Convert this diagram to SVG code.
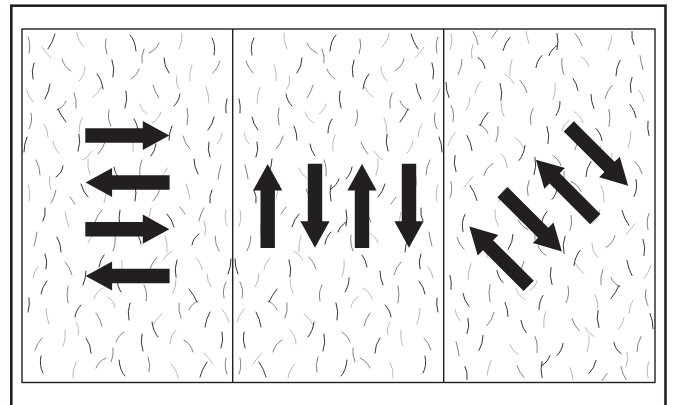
<svg xmlns="http://www.w3.org/2000/svg" xmlns:xlink="http://www.w3.org/1999/xlink" width="674" height="405" viewBox="0 0 674 405">
<style>
.h1{fill:none;stroke:#1e1e1e;stroke-width:0.9;stroke-linecap:round}
.h2{fill:none;stroke:#5a5a5a;stroke-width:0.75;stroke-linecap:round}
.h3{fill:none;stroke:#959595;stroke-width:0.65;stroke-linecap:round}
.arr{fill:#231f20}
.frame{fill:none;stroke:#231f20}
</style>
<defs>
<clipPath id="inner"><rect x="22" y="29" width="633" height="353.5"/></clipPath>
<path id="arrow" d="M-42,-7.2 H15.5 V-14.6 L42,0 L15.5,14.6 V7.2 H-42 Z"/>
<g id="tex">
<path class="h2" d="M6 8 q3 7 1 16"/>
<path class="h1" d="M33 5 q-2 8 -7 15"/>
<path class="h3" d="M55 4 q1 8 7 14"/>
<path class="h2" d="M84 10 q-2 7 1 15"/>
<path class="h1" d="M108 6 q5 5 6 16"/>
<path class="h2" d="M137 14 q-3 7 -10 10"/>
<path class="h3" d="M160 4 q1 8 -3 16"/>
<path class="h1" d="M190 9 q4 7 2 17"/>
<path class="h3" d="M20 18 q4 6 9 11"/>
<path class="h2" d="M122 20 q-3 7 -2 14"/>
<path class="h1" d="M12 34 q-3 8 -1 16"/>
<path class="h2" d="M40 30 q2 8 9 12"/>
<path class="h3" d="M63 38 q0 8 -6 14"/>
<path class="h1" d="M90 31 q3 8 1 17"/>
<path class="h2" d="M117 40 q-2 6 -8 10"/>
<path class="h1" d="M142 29 q0 8 5 15"/>
<path class="h3" d="M170 36 q-3 7 -2 16"/>
<path class="h2" d="M198 32 q-2 7 -7 12"/>
<path class="h1" d="M75 45 q5 6 6 15"/>
<path class="h3" d="M155 47 q-2 6 2 13"/>
<path class="h3" d="M4 60 q2 7 7 13"/>
<path class="h1" d="M28 55 q-1 8 -5 15"/>
<path class="h2" d="M52 64 q3 7 2 15"/>
<path class="h3" d="M80 57 q-3 7 -9 11"/>
<path class="h1" d="M104 62 q2 8 -1 17"/>
<path class="h2" d="M131 56 q2 8 6 13"/>
<path class="h1" d="M158 65 q-1 7 -6 12"/>
<path class="h3" d="M184 58 q3 8 3 16"/>
<path class="h2" d="M44 72 q-2 6 -9 9"/>
<path class="h3" d="M118 75 q1 6 7 10"/>
<path class="h1" d="M205 70 q-2 7 -1 14"/>
<path class="h2" d="M9 84 q2 8 -2 16"/>
<path class="h1" d="M36 80 q3 7 8 13"/>
<path class="h3" d="M60 89 q-3 6 -3 14"/>
<path class="h2" d="M87 81 q-2 8 2 16"/>
<path class="h1" d="M112 90 q4 6 4 14"/>
<path class="h3" d="M139 83 q-2 7 -9 11"/>
<path class="h2" d="M165 79 q2 8 0 17"/>
<path class="h1" d="M192 88 q-1 7 -6 13"/>
<path class="h3" d="M22 95 q4 6 4 13"/>
<path class="h1" d="M150 97 q-3 7 -3 14"/>
<path class="h1" d="M5 108 q-3 7 -3 15"/>
<path class="h3" d="M31 112 q1 7 6 12"/>
<path class="h1" d="M57 105 q2 8 -1 17"/>
<path class="h2" d="M83 113 q-2 7 -7 12"/>
<path class="h3" d="M109 106 q3 7 2 16"/>
<path class="h1" d="M134 115 q-1 7 -5 12"/>
<path class="h2" d="M161 107 q2 8 7 13"/>
<path class="h1" d="M187 113 q-2 8 1 15"/>
<path class="h3" d="M70 122 q-3 6 -9 9"/>
<path class="h3" d="M200 104 q-1 7 -5 11"/>
<path class="h2" d="M14 131 q4 7 4 15"/>
<path class="h1" d="M41 137 q-1 7 -7 11"/>
<path class="h3" d="M66 130 q-1 8 2 16"/>
<path class="h1" d="M92 138 q1 7 6 12"/>
<path class="h2" d="M120 131 q-3 7 -2 16"/>
<path class="h3" d="M145 139 q-2 6 -8 10"/>
<path class="h1" d="M172 130 q0 8 4 15"/>
<path class="h2" d="M199 136 q-2 7 -3 14"/>
<path class="h3" d="M28 147 q-2 7 1 14"/>
<path class="h1" d="M105 150 q2 6 8 10"/>
<path class="h3" d="M6 156 q3 7 1 16"/>
<path class="h2" d="M34 161 q-1 7 -5 13"/>
<path class="h1" d="M59 155 q2 8 7 13"/>
<path class="h3" d="M85 162 q-2 6 -3 12"/>
<path class="h1" d="M113 156 q2 8 0 16"/>
<path class="h2" d="M138 160 q-2 7 -7 12"/>
<path class="h3" d="M164 155 q3 8 4 15"/>
<path class="h1" d="M190 161 q-3 6 -2 13"/>
<path class="h2" d="M48 168 q2 3 5 7"/>
</g>
</defs>
<rect id="outer-frame" class="frame" x="11.3" y="5.7" width="654.2" height="410" stroke-width="2.6"/>
<g id="texture" clip-path="url(#inner)">
<use xlink:href="#tex" transform="translate(22,29)"/>
<use xlink:href="#tex" transform="translate(233,382) scale(-1,-1)"/>
<use xlink:href="#tex" transform="translate(444,29) scale(-1,1)"/>
<use xlink:href="#tex" transform="translate(233,382) scale(1,-1)"/>
<use xlink:href="#tex" transform="translate(444,205.5) scale(1,-1)"/>
<use xlink:href="#tex" transform="translate(655,205.5) scale(-1,1)"/>
</g>
<g id="panels" class="frame" stroke-width="1.4">
<rect x="22" y="29" width="633" height="353.5"/>
<line x1="232.7" y1="29" x2="232.7" y2="382.5"/>
<line x1="443.7" y1="29" x2="443.7" y2="382.5"/>
</g>
<g id="panel-horizontal" class="arr">
<use xlink:href="#arrow" transform="translate(127.3,135.5)"/>
<use xlink:href="#arrow" transform="translate(127.6,182.5) rotate(180)"/>
<use xlink:href="#arrow" transform="translate(127.3,229.2)"/>
<use xlink:href="#arrow" transform="translate(127.6,276) rotate(180)"/>
</g>
<g id="panel-vertical" class="arr">
<use xlink:href="#arrow" transform="translate(267.7,205.9) rotate(-90)"/>
<use xlink:href="#arrow" transform="translate(315,205.8) rotate(90)"/>
<use xlink:href="#arrow" transform="translate(362,205.9) rotate(-90)"/>
<use xlink:href="#arrow" transform="translate(409,205.8) rotate(90)"/>
</g>
<g id="panel-diagonal" class="arr">
<use xlink:href="#arrow" transform="translate(598.5,156) rotate(45)"/>
<use xlink:href="#arrow" transform="translate(565.6,189.4) rotate(225)"/>
<use xlink:href="#arrow" transform="translate(532.2,221.8) rotate(45)"/>
<use xlink:href="#arrow" transform="translate(499,256.2) rotate(225)"/>
</g>
</svg>
